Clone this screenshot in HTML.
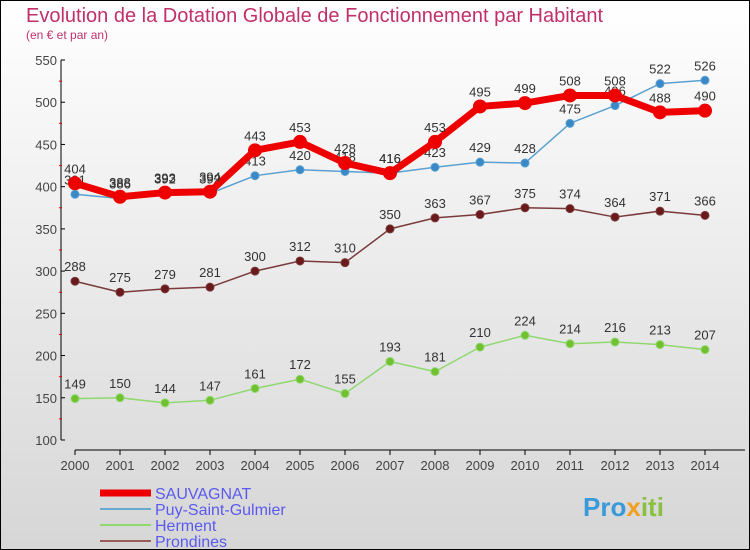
<!DOCTYPE html>
<html><head><meta charset="utf-8"><style>
body{margin:0}
svg{display:block;font-family:"Liberation Sans",sans-serif}
</style></head><body>
<svg id="c" width="750" height="550" xmlns="http://www.w3.org/2000/svg">
<defs><linearGradient id="bg" x1="0" y1="0" x2="0" y2="1"><stop offset="0" stop-color="#ffffff"/><stop offset="1" stop-color="#d6d6d6"/></linearGradient></defs>
<rect x="0.5" y="0.5" width="749" height="549" fill="url(#bg)" stroke="#000"/>
<text x="26" y="22" font-size="20" fill="#c0306a">Evolution de la Dotation Globale de Fonctionnement par Habitant</text>
<text x="26" y="39" font-size="12" fill="#c0306a">(en € et par an)</text>
<g id="axes"></g><g id="series"></g><g id="legend"></g>
<text x="583" y="516" font-size="26" font-weight="bold" fill="#3a9ad9">Pro<tspan fill="#f0a020">x</tspan><tspan fill="#8ac040">iti</tspan></text>
</svg>
<script>
const years=[2000,2001,2002,2003,2004,2005,2006,2007,2008,2009,2010,2011,2012,2013,2014];
const sauvagnat=[404,388,393,394,443,453,428,416,453,495,499,508,508,488,490];
const puy=[391,386,392,392,413,420,418,416,423,429,428,475,496,522,526];
const herment=[149,150,144,147,161,172,155,193,181,210,224,214,216,213,207];
const prondines=[288,275,279,281,300,312,310,350,363,367,375,374,364,371,366];
const yTicks=[100,150,200,250,300,350,400,450,500,550];
const NS="http://www.w3.org/2000/svg";
const X=i=>75+i*45, Y=v=>440-(v-100)*380/450;
function mk(t,a,p){const e=document.createElementNS(NS,t);for(const k in a)e.setAttribute(k,a[k]);p.appendChild(e);return e;}
const ax=document.getElementById('axes');
let l=mk('line',{x1:61,y1:60,x2:61,y2:440,stroke:'#000'},ax);


l=mk('line',{x1:75,y1:450,x2:745,y2:450,stroke:'#000'},ax);


yTicks.forEach((v,i)=>{
  mk('line',{x1:61,y1:Y(v),x2:65,y2:Y(v),stroke:'#000'},ax);
  if(i<yTicks.length-1)mk('line',{x1:59,y1:Y(v+25),x2:62,y2:Y(v+25),stroke:'#e00'},ax);
  const t=mk('text',{x:57,y:Y(v)+5,'font-size':13,fill:'#444','text-anchor':'end'},ax);t.textContent=v;
  
  
});
years.forEach((y,i)=>{
  mk('line',{x1:X(i),y1:450,x2:X(i),y2:455,stroke:'#000'},ax);
  const t=mk('text',{x:X(i),y:470,'font-size':13,fill:'#444','text-anchor':'middle'},ax);t.textContent=y;
  
  
});
const sg=document.getElementById('series');
function draw(name,data,color,w,r,dot){
  const g=mk('g',{},sg);
  
  
  mk('polyline',{points:data.map((v,i)=>X(i)+','+Y(v)).join(' '),fill:'none',stroke:color,'stroke-width':w,'stroke-linejoin':'round'},g);
  data.forEach((v,i)=>{
    const c=mk('circle',{cx:X(i),cy:Y(v),r:r,fill:dot,stroke:color,'stroke-width':1},g);
    
    
    const t=mk('text',{x:X(i),y:Y(v)-10,'font-size':13,fill:'#333','text-anchor':'middle'},g);t.textContent=v;
    
    
  });
}
draw('prondines',prondines,'#7a3a3a',1.5,4,'#6a1a1a');
draw('herment',herment,'#90d870',1.5,4,'#70c030');
draw('puy',puy,'#5aa0d0',1.5,4,'#3a88c8');
draw('sauvagnat',sauvagnat,'#ee0000',7,6.5,'#ee0000');
const lg=document.getElementById('legend');
[['SAUVAGNAT','#ee0000',7],['Puy-Saint-Gulmier','#6aa8d0',2],['Herment','#90d870',2],['Prondines','#9a5a5a',2]].forEach((d,i)=>{
  const y=493+i*16;
  const g=mk('g',{},lg);
  
  
  mk('line',{x1:100,y1:y,x2:151,y2:y,stroke:d[1],'stroke-width':d[2]},g);
  const t=mk('text',{x:155,y:y+6,'font-size':16,fill:'#5a5aee'},g);t.textContent=d[0];
});
</script>
</body></html>
